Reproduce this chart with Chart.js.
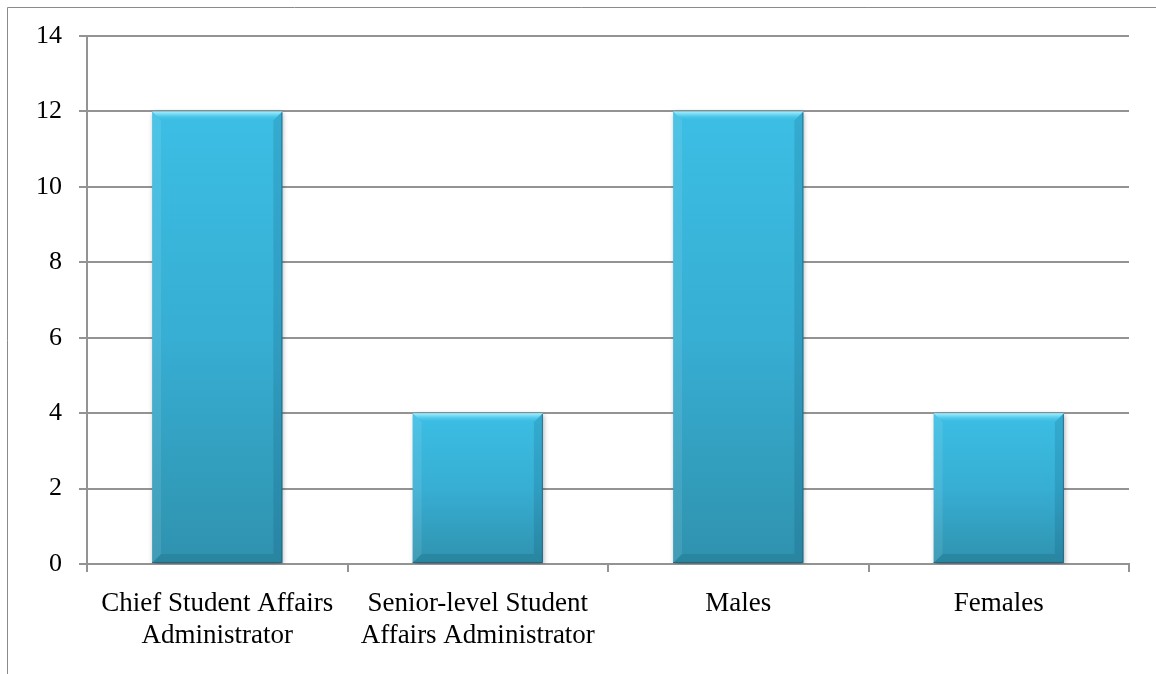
<!DOCTYPE html>
<html>
<head>
<meta charset="utf-8">
<script src="https://cdn.jsdelivr.net/npm/chart.js@4"></script>
<style>
  html, body { margin: 0; padding: 0; background: #fff; }
  #wrap { position: relative; width: 1156px; height: 674px; }
</style>
</head>
<body>
<div id="wrap"><canvas id="c" width="1156" height="674"></canvas></div>
<script>
// Respondents by position and by gender
const categories = [
  ['Chief Student Affairs', 'Administrator'],
  ['Senior-level Student', 'Affairs Administrator'],
  'Males',
  'Females'
];
const counts = [12, 4, 12, 4];
const yMin = 0;
const yMax = 14;
const yStep = 2;

const AXIS_GRAY = '#939393';
const SERIF = "'Liberation Serif', 'Times New Roman', serif";
const X_FONT = { family: SERIF, size: 27, lineHeight: 1.185 };
const Y_FONT = { family: SERIF, size: 26, lineHeight: 1.2 };

// Vertical gradient per bar, from the bar top down to the zero line
function barFill(ctx) {
  const chart = ctx.chart;
  if (!chart.chartArea || ctx.type !== 'data') return '#37aed2';
  const y = chart.scales.y;
  const top = y.getPixelForValue(ctx.raw);
  const base = y.getPixelForValue(0);
  const g = chart.ctx.createLinearGradient(0, top, 0, base);
  g.addColorStop(0, '#3cbee4');
  g.addColorStop(0.5, '#37aed3');
  g.addColorStop(1, '#2f92ae');
  return g;
}

// Outer frame (left and top edges of the chart box)
const framePlugin = {
  id: 'frame',
  beforeDraw(chart) {
    const c = chart.ctx;
    c.save();
    c.strokeStyle = '#8a8a8a';
    c.lineWidth = 1;
    c.beginPath();
    c.moveTo(7.5, chart.height);
    c.lineTo(7.5, 7.5);
    c.lineTo(chart.width, 7.5);
    c.stroke();
    c.restore();
  }
};

// Soft drop shadow under the bars plus a bevelled edge on each bar
const bevelPlugin = {
  id: 'bevel',
  beforeDatasetsDraw(chart) {
    const c = chart.ctx;
    c.save();
    c.shadowColor = 'rgba(0,0,0,0.35)';
    c.shadowBlur = 5;
    c.shadowOffsetX = 1;
    c.shadowOffsetY = 2;
  },
  afterDatasetsDraw(chart) {
    const c = chart.ctx;
    c.restore();
    const meta = chart.getDatasetMeta(0);
    meta.data.forEach(el => {
      const p = el.getProps(['x', 'y', 'base', 'width'], true);
      const x1 = p.x - p.width / 2, x2 = p.x + p.width / 2;
      const t = p.y, b = p.base;
      const s = 9;
      c.save();
      // top bevel
      const gt = c.createLinearGradient(0, t, 0, t + s);
      gt.addColorStop(0, '#a6effd');
      gt.addColorStop(0.35, '#6cd6f3');
      gt.addColorStop(1, 'rgba(60,190,228,0)');
      c.fillStyle = gt;
      c.beginPath();
      c.moveTo(x1, t); c.lineTo(x2, t); c.lineTo(x2 - s, t + s); c.lineTo(x1 + s, t + s);
      c.closePath(); c.fill();
      // left bevel
      c.fillStyle = 'rgba(255,255,255,0.09)';
      c.beginPath();
      c.moveTo(x1, t); c.lineTo(x1 + s, t + s); c.lineTo(x1 + s, b - s); c.lineTo(x1, b);
      c.closePath(); c.fill();
      // right bevel
      c.fillStyle = 'rgba(0,50,80,0.13)';
      c.beginPath();
      c.moveTo(x2, t); c.lineTo(x2 - s, t + s); c.lineTo(x2 - s, b - s); c.lineTo(x2, b);
      c.closePath(); c.fill();
      // bottom bevel
      c.fillStyle = 'rgba(0,40,60,0.12)';
      c.beginPath();
      c.moveTo(x1, b); c.lineTo(x1 + s, b - s); c.lineTo(x2 - s, b - s); c.lineTo(x2, b);
      c.closePath(); c.fill();
      // dark outline on bottom and right
      c.strokeStyle = 'rgba(30,90,115,0.7)';
      c.lineWidth = 1;
      c.beginPath();
      c.moveTo(x1, b - 0.5); c.lineTo(x2 - 0.5, b - 0.5); c.lineTo(x2 - 0.5, t + 1);
      c.stroke();
      c.restore();
    });
  }
};

new Chart(document.getElementById('c'), {
  type: 'bar',
  data: {
    labels: categories,
    datasets: [{
      data: counts,
      backgroundColor: barFill,
      borderWidth: 0,
      barPercentage: 0.5,
      categoryPercentage: 1.0
    }]
  },
  options: {
    responsive: false,
    animation: false,
    devicePixelRatio: 1,
    layout: { padding: { top: 36, right: 27, left: 0, bottom: 0 } },
    plugins: { legend: { display: false }, tooltip: { enabled: false } },
    scales: {
      x: {
        offset: true,
        grid: { offset: true, drawOnChartArea: false, drawTicks: true, tickLength: 8, color: AXIS_GRAY, lineWidth: 2 },
        border: { display: true, color: AXIS_GRAY, width: 2 },
        ticks: { font: X_FONT, color: '#000', padding: 16, maxRotation: 0, autoSkip: false },
        afterFit(scale) { scale.height = 110; }
      },
      y: {
        min: yMin,
        max: yMax,
        ticks: { stepSize: yStep, font: Y_FONT, color: '#000', padding: 17 },
        grid: { color: AXIS_GRAY, lineWidth: 2, tickLength: 8, drawTicks: true },
        border: { display: true, color: AXIS_GRAY, width: 2 },
        afterFit(scale) { scale.width = 87; }
      }
    }
  },
  plugins: [framePlugin, bevelPlugin]
});
</script>
</body>
</html>
